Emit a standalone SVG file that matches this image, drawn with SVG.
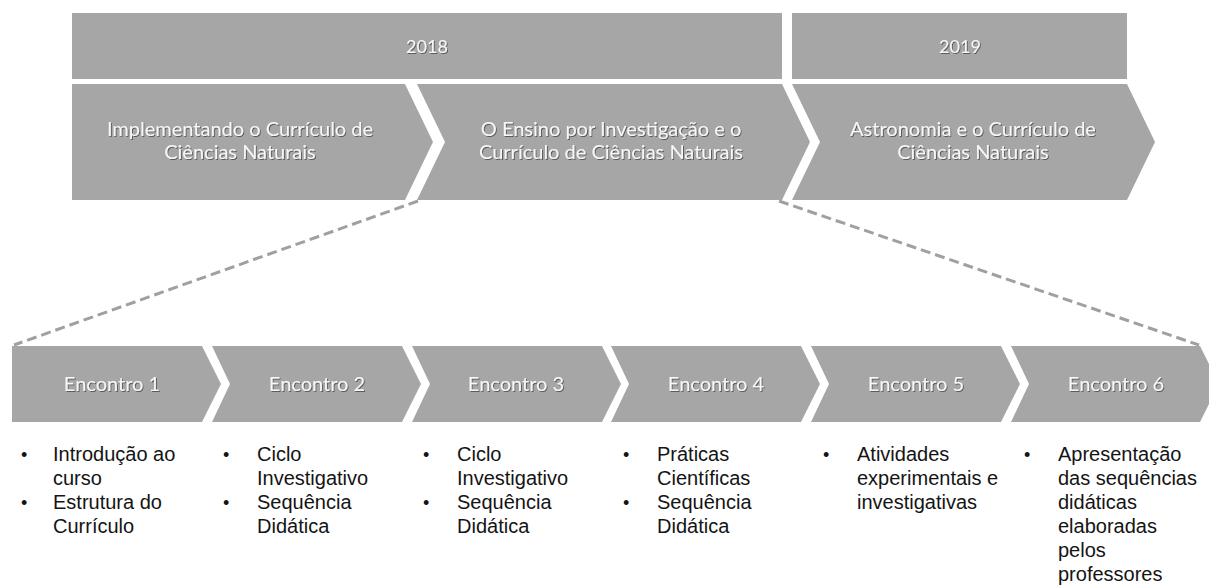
<svg xmlns="http://www.w3.org/2000/svg" width="1209" height="585" viewBox="0 0 1209 585">
<defs>
<filter id="ts" x="-10%" y="-30%" width="120%" height="160%">
<feDropShadow dx="1" dy="1" stdDeviation="0.7" flood-color="#000" flood-opacity="0.45"/>
</filter>
<style>
.shape{fill:#a6a6a6;}
.lbl{font-family:Lato,"Open Sans","Liberation Sans",sans-serif;fill:#f7f7f7;text-anchor:middle;filter:url(#ts);}
.yr{font-size:18px;}
.ph{font-size:20px;}
.enc{font-size:20px;}
.item{font-family:"Liberation Sans",Arial,sans-serif;font-size:20px;fill:#141414;}
.bul{font-family:"Liberation Sans",Arial,sans-serif;font-size:18px;fill:#141414;}
.dash{fill:none;stroke:#a0a0a0;stroke-width:3;stroke-dasharray:10 5;}
</style>
</defs>
<rect width="1209" height="585" fill="#ffffff"/>

<g id="connectors">
<line class="dash" x1="418" y1="201" x2="14" y2="345"/>
<line class="dash" x1="779" y1="201" x2="1199" y2="345"/>
</g>

<g id="year2018">
<rect class="shape" x="72" y="13" width="710" height="66"/>
<text class="lbl yr" x="427" y="53">2018</text>
</g>
<g id="year2019">
<rect class="shape" x="792" y="13" width="335" height="66"/>
<text class="lbl yr" x="960" y="53">2019</text>
</g>

<g id="phase1">
<polygon class="shape" points="72,84 405,84 433,142 405,200 72,200"/>
<text class="lbl ph" x="240" y="136">Implementando o Currículo de</text>
<text class="lbl ph" x="240" y="159">Ciências Naturais</text>
</g>
<g id="phase2">
<polygon class="shape" points="417,84 782,84 810,142 782,200 417,200 445,142"/>
<text class="lbl ph" x="611" y="136">O Ensino por Investigação e o</text>
<text class="lbl ph" x="611" y="159">Currículo de Ciências Naturais</text>
</g>
<g id="phase3">
<polygon class="shape" points="792,84 1127,84 1155,142 1127,200 792,200 820,142"/>
<text class="lbl ph" x="973" y="136">Astronomia e o Currículo de</text>
<text class="lbl ph" x="973" y="159">Ciências Naturais</text>
</g>

<g id="encontro1">
<polygon class="shape" points="12,346 202,346 221,384 202,422 12,422"/>
<text class="lbl enc" x="112" y="391">Encontro 1</text>
<text class="bul" x="21" y="461">•</text>
<text class="item" x="53" y="461">Introdução ao</text>
<text class="item" x="53" y="485">curso</text>
<text class="bul" x="21" y="509">•</text>
<text class="item" x="53" y="509">Estrutura do</text>
<text class="item" x="53" y="533">Currículo</text>
</g>
<g id="encontro2">
<polygon class="shape" points="212,346 402,346 421,384 402,422 212,422 230,384"/>
<text class="lbl enc" x="317" y="391">Encontro 2</text>
<text class="bul" x="223" y="461">•</text>
<text class="item" x="257" y="461">Ciclo</text>
<text class="item" x="257" y="485">Investigativo</text>
<text class="bul" x="223" y="509">•</text>
<text class="item" x="257" y="509">Sequência</text>
<text class="item" x="257" y="533">Didática</text>
</g>
<g id="encontro3">
<polygon class="shape" points="412,346 602,346 621,384 602,422 412,422 430,384"/>
<text class="lbl enc" x="516" y="391">Encontro 3</text>
<text class="bul" x="423" y="461">•</text>
<text class="item" x="457" y="461">Ciclo</text>
<text class="item" x="457" y="485">Investigativo</text>
<text class="bul" x="423" y="509">•</text>
<text class="item" x="457" y="509">Sequência</text>
<text class="item" x="457" y="533">Didática</text>
</g>
<g id="encontro4">
<polygon class="shape" points="611,346 801,346 820,384 801,422 611,422 629,384"/>
<text class="lbl enc" x="716" y="391">Encontro 4</text>
<text class="bul" x="623" y="461">•</text>
<text class="item" x="657" y="461">Práticas</text>
<text class="item" x="657" y="485">Científicas</text>
<text class="bul" x="623" y="509">•</text>
<text class="item" x="657" y="509">Sequência</text>
<text class="item" x="657" y="533">Didática</text>
</g>
<g id="encontro5">
<polygon class="shape" points="811,346 1001,346 1020,384 1001,422 811,422 829,384"/>
<text class="lbl enc" x="916" y="391">Encontro 5</text>
<text class="bul" x="823" y="461">•</text>
<text class="item" x="857" y="461">Atividades</text>
<text class="item" x="857" y="485">experimentais e</text>
<text class="item" x="857" y="509">investigativas</text>
</g>
<g id="encontro6">
<polygon class="shape" points="1011,346 1200,346 1219,384 1200,422 1011,422 1029,384"/>
<text class="lbl enc" x="1116" y="391">Encontro 6</text>
<text class="bul" x="1024" y="461">•</text>
<text class="item" x="1058" y="461">Apresentação</text>
<text class="item" x="1058" y="485">das sequências</text>
<text class="item" x="1058" y="509">didáticas</text>
<text class="item" x="1058" y="533">elaboradas</text>
<text class="item" x="1058" y="557">pelos</text>
<text class="item" x="1058" y="581">professores</text>
</g>
</svg>
